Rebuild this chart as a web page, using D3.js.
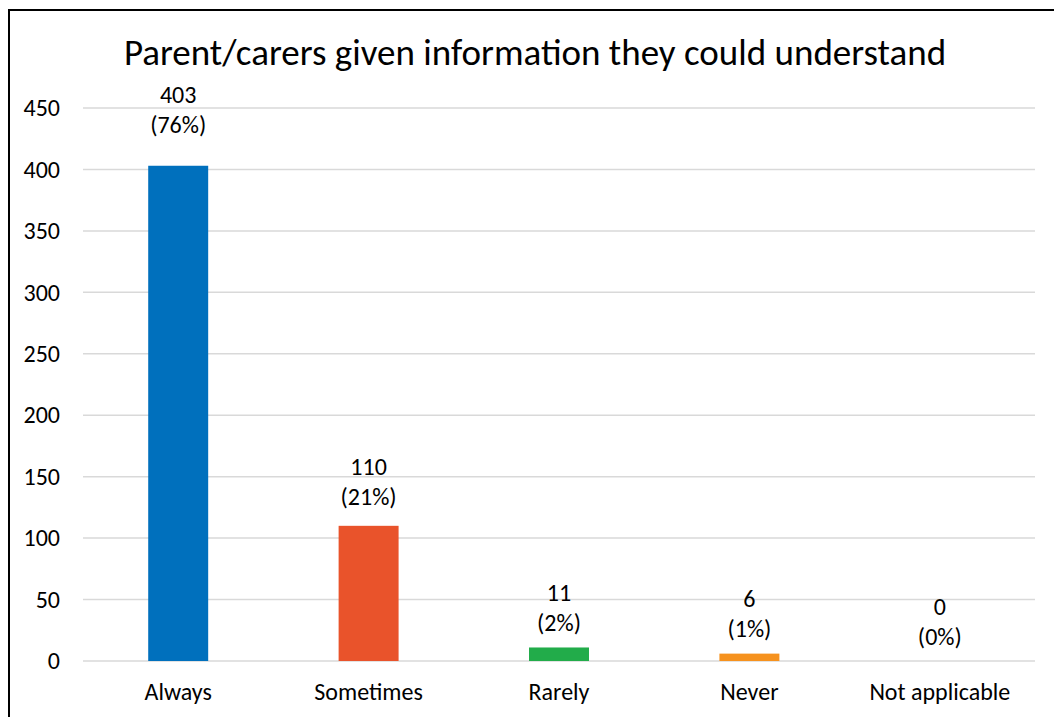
<!DOCTYPE html>
<html>
<head>
<meta charset="utf-8">
<script src="https://cdn.jsdelivr.net/npm/d3@7/dist/d3.min.js"></script>
<style>
  html, body { margin: 0; padding: 0; background: #fff; }
  svg { display: block; font-family: Calibri, Carlito, "Open Sans", sans-serif; }
</style>
</head>
<body>
<svg id="chart" width="1054" height="717"></svg>
<script>
// Survey responses: parent/carers given information they could understand
const categories = ["Always", "Sometimes", "Rarely", "Never", "Not applicable"];
const counts = [403, 110, 11, 6, 0];
const barColors = ["#0070BD", "#E9532B", "#22AC4A", "#F6921E", "#A5A5A5"];
const yTicks = [0, 50, 100, 150, 200, 250, 300, 350, 400, 450];
const title = "Parent/carers given information they could understand";

const FONT = 'Calibri, Carlito, "Open Sans", sans-serif';
const LABEL_SIZE = 24;
const svg = d3.select("#chart");
const W = 1054, H = 717;
const plot = { left: 83, right: 1035, top: 108, bottom: 661 };

// outer frame of the chart area (runs off the right and bottom edges)
svg.append("rect")
  .attr("x", 9).attr("y", 10)
  .attr("width", W + 40).attr("height", H + 40)
  .attr("fill", "#fff").attr("stroke", "#000").attr("stroke-width", 2);

const x = d3.scaleBand()
  .domain(categories)
  .range([plot.left, plot.right])
  .paddingInner(0.685)
  .paddingOuter(0.3425);

const y = d3.scaleLinear()
  .domain([0, 450])
  .range([plot.bottom, plot.top]);

// horizontal gridlines
svg.append("g")
  .selectAll("line")
  .data(yTicks)
  .join("line")
  .attr("x1", plot.left).attr("x2", plot.right)
  .attr("y1", d => y(d)).attr("y2", d => y(d))
  .attr("stroke", "#D9D9D9").attr("stroke-width", 1.5);

// value axis labels
const yAxis = d3.axisLeft(y).tickValues(yTicks).tickSize(0).tickPadding(0);
const gy = svg.append("g").attr("transform", `translate(60,0)`).call(yAxis);
gy.select(".domain").remove();
gy.selectAll("text")
  .attr("font-size", LABEL_SIZE).attr("fill", "#000")
  .attr("font-family", FONT);

// category axis labels
const xAxis = d3.axisBottom(x).tickSize(0).tickPadding(0);
const gx = svg.append("g").attr("transform", `translate(0,${plot.bottom + 22})`).call(xAxis);
gx.select(".domain").remove();
gx.selectAll("text")
  .attr("font-size", LABEL_SIZE).attr("fill", "#000")
  .attr("font-family", FONT);

// bars
svg.append("g")
  .selectAll("rect")
  .data(categories)
  .join("rect")
  .attr("x", d => x(d))
  .attr("width", x.bandwidth())
  .attr("y", (d, i) => y(counts[i]))
  .attr("height", (d, i) => plot.bottom - y(counts[i]))
  .attr("fill", (d, i) => barColors[i]);

// data labels: count and share of total
const total = d3.sum(counts);
const labels = svg.append("g")
  .selectAll("text")
  .data(categories)
  .join("text")
  .attr("text-anchor", "middle")
  .attr("font-size", LABEL_SIZE)
  .attr("fill", "#000")
  .attr("x", d => x(d) + x.bandwidth() / 2)
  .attr("y", (d, i) => {
    const top = y(counts[i]);
    return top - 54 - (plot.bottom - top) * 0.034;
  });
labels.append("tspan")
  .attr("dy", "0.32em")
  .text((d, i) => counts[i]);
labels.append("tspan")
  .attr("x", d => x(d) + x.bandwidth() / 2)
  .attr("dy", 30)
  .text((d, i) => `(${Math.round(counts[i] / total * 100)}%)`);

// chart title
svg.append("text")
  .attr("x", 535).attr("y", 65)
  .attr("text-anchor", "middle")
  .attr("font-size", 37)
  .attr("fill", "#000")
  .text(title);
</script>
</body>
</html>
